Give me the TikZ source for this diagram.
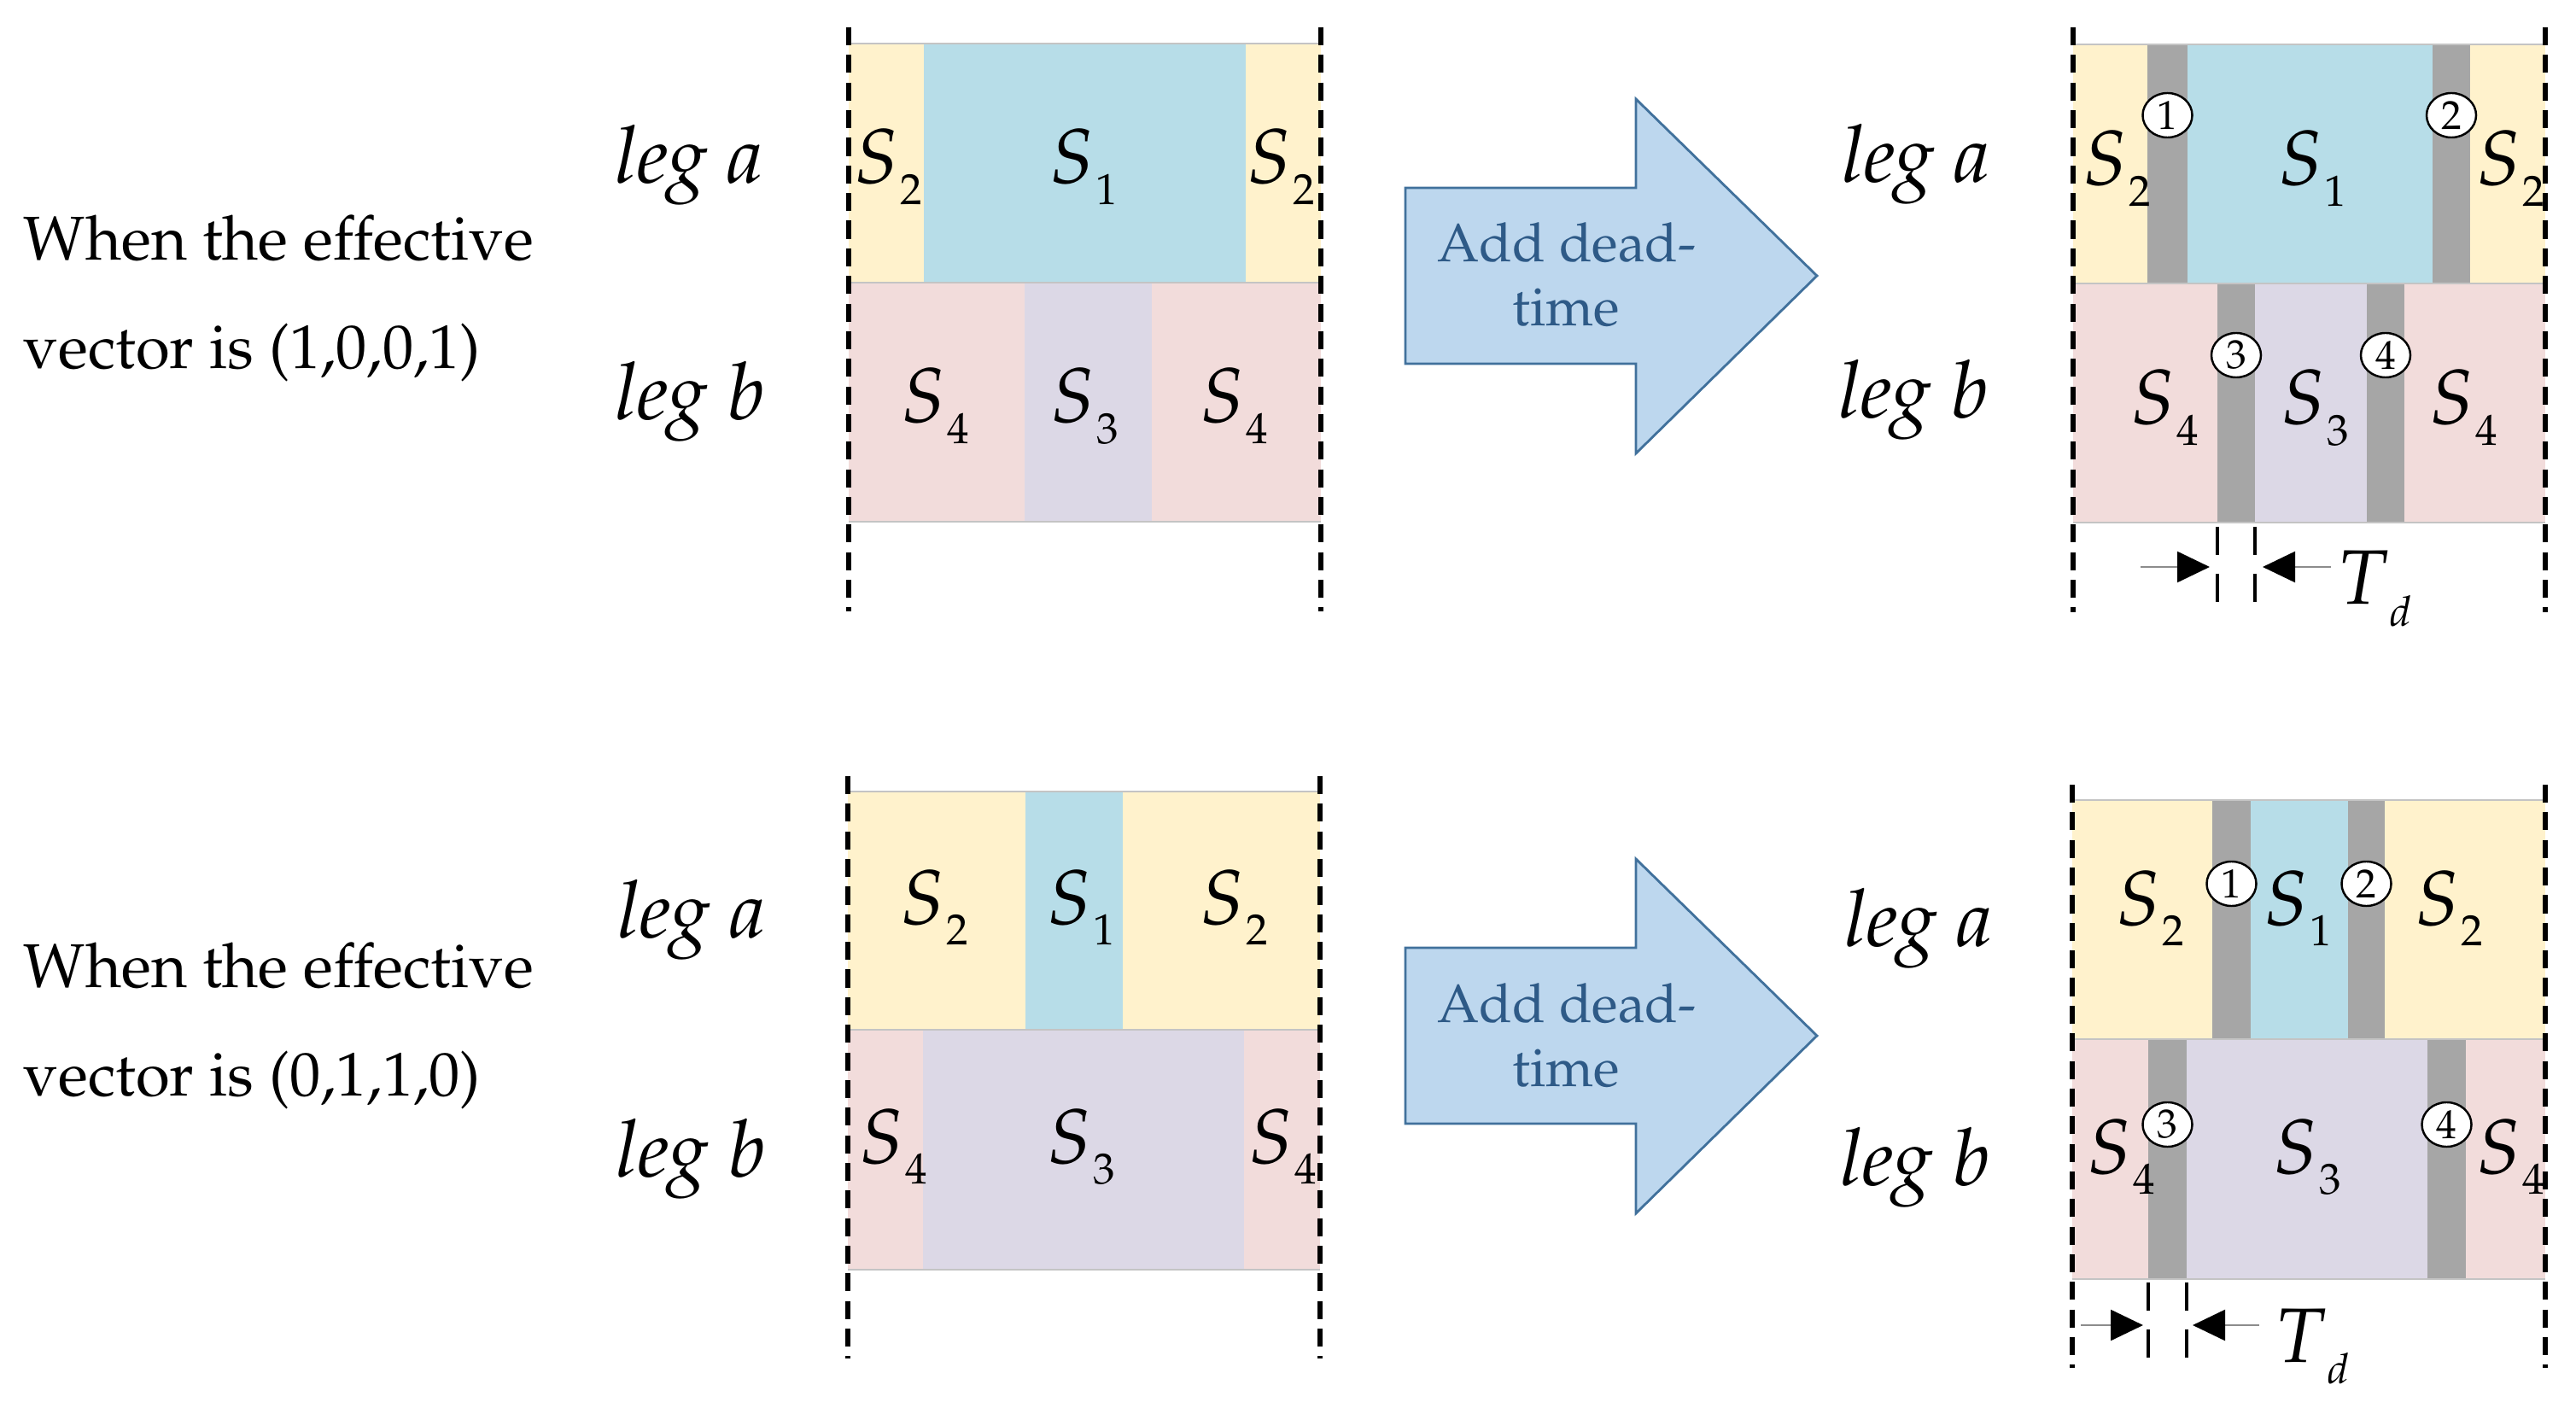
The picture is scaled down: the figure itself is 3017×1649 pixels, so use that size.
\documentclass[tikz,border=0pt]{standalone}
\usepackage[T1]{fontenc}
\usepackage{mathpazo}
\usetikzlibrary{arrows.meta,shapes.geometric}
\definecolor{cyel}{HTML}{FFF2CC}
\definecolor{cblu}{HTML}{B7DDE8}
\definecolor{cpnk}{HTML}{F2DCDB}
\definecolor{clav}{HTML}{DCD8E6}
\definecolor{cgry}{HTML}{A6A6A6}
\definecolor{afill}{HTML}{BDD7EE}
\definecolor{aline}{HTML}{41719C}
\definecolor{atext}{HTML}{2E5A87}
\definecolor{bline}{HTML}{C4C4C4}
\newcommand{\Slab}[1]{$S$\kern0.6pt\raisebox{-6.9pt}{\fontsize{14.5}{15}\selectfont #1}}
\newcommand{\Tdlab}{$T$\kern0.4pt\raisebox{-7.3pt}{\fontsize{14}{14}\selectfont$d$}}
\tikzset{
  lbl/.style={inner sep=0pt, anchor=base, font=\fontsize{25.7}{30}\selectfont},
  leglbl/.style={inner sep=0pt, anchor=base west, font=\fontsize{26.5}{30}\selectfont\itshape},
  txt/.style={inner sep=0pt, anchor=base west, font=\fontsize{20.6}{25}\selectfont},
  atxt/.style={inner sep=0pt, anchor=base, text=atext, font=\fontsize{18}{22}\selectfont},
  vd/.style={line width=1.7pt, dash pattern=on 6pt off 3.2pt},
  tdd/.style={line width=1.3pt, dash pattern=on 9.4pt off 6.2pt},
  bl/.style={draw=bline, line width=0.5pt},
  bigarrow/.style={fill=afill, draw=aline, line width=0.8pt, line join=miter},
  circ/.style={ellipse, draw=black, line width=0.7pt, fill=white, minimum width=0.58cm, minimum height=0.52cm, inner sep=0pt, font=\fontsize{13.5}{14}\selectfont},
  tdarrow/.style={draw=black!45, line width=0.7pt, -{Triangle[length=0.38cm,width=0.36cm,black]}},
}
\begin{document}
\begin{tikzpicture}[x=0.01cm,y=-0.01cm]
\useasboundingbox (0,0) rectangle (3017,1649);

% ---------- left texts ----------
\node[txt] (t1a) at (27,305) {When the effective};
\node[txt] (t1b) at (27,432) {vector is (1,0,0,1)};
\node[txt] (t2a) at (27,1156) {When the effective};
\node[txt] (t2b) at (27,1283) {vector is (0,1,1,0)};

% ---------- TOP LEFT panel ----------
\fill[cyel] (994,51) rectangle (1082,331);
\fill[cblu] (1082,51) rectangle (1459,331);
\fill[cyel] (1459,51) rectangle (1547,331);
\fill[cpnk] (994,331) rectangle (1200,611);
\fill[clav] (1200,331) rectangle (1349,611);
\fill[cpnk] (1349,331) rectangle (1547,611);
\draw[bl] (994,51) -- (1547,51) (994,331) -- (1547,331) (994,611) -- (1547,611);
\draw[vd] (994,32) -- (994,716);
\draw[vd] (1547,32) -- (1547,716);
\node[leglbl] (tla) at (720,215) {leg a};
\node[leglbl] (tlb) at (720,492) {leg b};
\node[lbl] (tl1) at (1040,215) {\Slab{2}};
\node[lbl] (tl2) at (1269,215) {\Slab{1}};
\node[lbl] (tl3) at (1500,215) {\Slab{2}};
\node[lbl] (tl4) at (1095,495) {\Slab{4}};
\node[lbl] (tl5) at (1270,495) {\Slab{3}};
\node[lbl] (tl6) at (1445,495) {\Slab{4}};

% ---------- TOP arrow ----------
\draw[bigarrow] (1646,220) -- (1916,220) -- (1916,116) -- (2128,323) -- (1916,531) -- (1916,426) -- (1646,426) -- cycle;
\node[atxt] (ar1a) at (1835,307) {Add dead-};
\node[atxt] (ar1b) at (1834,382) {time};

% ---------- TOP RIGHT panel ----------
\fill[cyel] (2428,52) rectangle (2515,332);
\fill[cgry] (2515,52) rectangle (2562,332);
\fill[cblu] (2562,52) rectangle (2849,332);
\fill[cgry] (2849,52) rectangle (2893,332);
\fill[cyel] (2893,52) rectangle (2981,332);
\fill[cpnk] (2428,332) rectangle (2597,612);
\fill[cgry] (2597,332) rectangle (2641,612);
\fill[clav] (2641,332) rectangle (2772,612);
\fill[cgry] (2772,332) rectangle (2816,612);
\fill[cpnk] (2816,332) rectangle (2981,612);
\draw[bl] (2428,52) -- (2981,52) (2428,332) -- (2981,332) (2428,612) -- (2981,612);
\draw[vd] (2428,32) -- (2428,717);
\draw[vd] (2981,32) -- (2981,717);
\node[leglbl] (tra) at (2157,214) {leg a};
\node[leglbl] (trb) at (2153,490) {leg b};
\node[lbl] (tr1) at (2479,217) {\Slab{2}};
\node[lbl] (tr2) at (2708,217) {\Slab{1}};
\node[lbl] (tr3) at (2940,217) {\Slab{2}};
\node[lbl] (tr4) at (2535,497) {\Slab{4}};
\node[lbl] (tr5) at (2711,497) {\Slab{3}};
\node[lbl] (tr6) at (2885,497) {\Slab{4}};
\node[circ] (trc1) at (2538.5,135) {1};
\node[circ] (trc2) at (2871,135) {2};
\node[circ] (trc3) at (2619,416) {3};
\node[circ] (trc4) at (2794,416) {4};
% dead-time dimension
\coordinate (tdA1) at (2597,617);
\coordinate (tdA2) at (2597,706);
\coordinate (tdB1) at (2641,617);
\coordinate (tdB2) at (2641,706);
\draw[tdd] (tdA1) -- (tdA2);
\draw[tdd] (tdB1) -- (tdB2);
\coordinate (tdL) at (2507,664);
\coordinate (tdLt) at (2588,664);
\coordinate (tdR) at (2730,664);
\coordinate (tdRt) at (2650,664);
\draw[tdarrow] (tdL) -- (tdLt);
\draw[tdarrow] (tdR) -- (tdRt);
\node[lbl, anchor=base west] (td1) at (2736,708) {\Tdlab};

% ---------- BOTTOM LEFT panel ----------
\fill[cyel] (993,927) rectangle (1201,1206);
\fill[cblu] (1201,927) rectangle (1315,1206);
\fill[cyel] (1315,927) rectangle (1546,1206);
\fill[cpnk] (993,1206) rectangle (1081,1487);
\fill[clav] (1081,1206) rectangle (1457,1487);
\fill[cpnk] (1457,1206) rectangle (1546,1487);
\draw[bl] (993,927) -- (1546,927) (993,1206) -- (1546,1206) (993,1487) -- (1546,1487);
\draw[vd] (993,909) -- (993,1591);
\draw[vd] (1546,909) -- (1546,1591);
\node[leglbl] (bla) at (723,1098) {leg a};
\node[leglbl] (blb) at (721,1378) {leg b};
\node[lbl] (bl1) at (1094,1082) {\Slab{2}};
\node[lbl] (bl2) at (1266,1082) {\Slab{1}};
\node[lbl] (bl3) at (1445,1082) {\Slab{2}};
\node[lbl] (bl4) at (1046,1362) {\Slab{4}};
\node[lbl] (bl5) at (1266,1362) {\Slab{3}};
\node[lbl] (bl6) at (1502,1362) {\Slab{4}};

% ---------- BOTTOM arrow ----------
\draw[bigarrow] (1646,1110) -- (1916,1110) -- (1916,1006) -- (2128,1213) -- (1916,1421) -- (1916,1316) -- (1646,1316) -- cycle;
\node[atxt] (ar2a) at (1835,1197) {Add dead-};
\node[atxt] (ar2b) at (1834,1272) {time};

% ---------- BOTTOM RIGHT panel ----------
\fill[cyel] (2427,937) rectangle (2591,1217);
\fill[cgry] (2591,937) rectangle (2636,1217);
\fill[cblu] (2636,937) rectangle (2750,1217);
\fill[cgry] (2750,937) rectangle (2793,1217);
\fill[cyel] (2793,937) rectangle (2981,1217);
\fill[cpnk] (2427,1217) rectangle (2516,1498);
\fill[cgry] (2516,1217) rectangle (2561,1498);
\fill[clav] (2561,1217) rectangle (2843,1498);
\fill[cgry] (2843,1217) rectangle (2888,1498);
\fill[cpnk] (2888,1217) rectangle (2981,1498);
\draw[bl] (2427,937) -- (2981,937) (2427,1217) -- (2981,1217) (2427,1498) -- (2981,1498);
\draw[vd] (2427,919) -- (2427,1602);
\draw[vd] (2981,919) -- (2981,1602);
\node[leglbl] (bra) at (2160,1108) {leg a};
\node[leglbl] (brb) at (2155,1388) {leg b};
\node[lbl] (br1) at (2518,1083) {\Slab{2}};
\node[lbl] (br2) at (2691,1083) {\Slab{1}};
\node[lbl] (br3) at (2868,1083) {\Slab{2}};
\node[lbl] (br4) at (2484,1374) {\Slab{4}};
\node[lbl] (br5) at (2702,1374) {\Slab{3}};
\node[lbl] (br6) at (2940,1374) {\Slab{4}};
\node[circ] (brc1) at (2613.5,1035) {1};
\node[circ] (brc2) at (2771.5,1035) {2};
\node[circ] (brc3) at (2538.5,1317) {3};
\node[circ] (brc4) at (2865.5,1317) {4};
% dead-time dimension
\coordinate (tdC1) at (2516,1502);
\coordinate (tdC2) at (2516,1593);
\coordinate (tdD1) at (2561,1502);
\coordinate (tdD2) at (2561,1593);
\draw[tdd] (tdC1) -- (tdC2);
\draw[tdd] (tdD1) -- (tdD2);
\coordinate (tdM) at (2437,1552);
\coordinate (tdMt) at (2510,1552);
\coordinate (tdN) at (2646,1552);
\coordinate (tdNt) at (2568,1552);
\draw[tdarrow] (tdM) -- (tdMt);
\draw[tdarrow] (tdN) -- (tdNt);
\node[lbl, anchor=base west] (td2) at (2663,1595) {\Tdlab};
\end{tikzpicture}
\end{document}
